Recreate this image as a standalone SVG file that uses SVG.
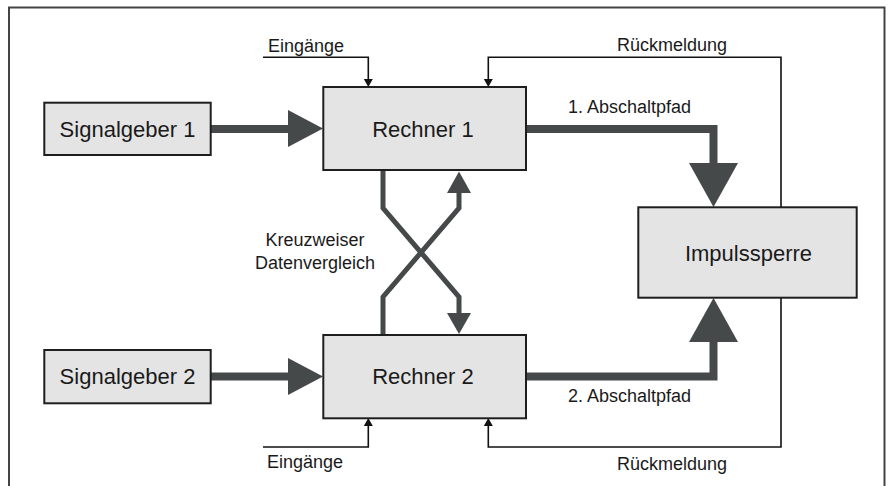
<svg xmlns="http://www.w3.org/2000/svg" width="888" height="486" viewBox="0 0 888 486">
<style>
.box{fill:#e4e4e4;stroke:#1e1e1e;stroke-width:2}
.big{font-family:"Liberation Sans",Arial,sans-serif;font-size:22px;fill:#1a1a1a}
.lbl{font-family:"Liberation Sans",Arial,sans-serif;font-size:18px;fill:#1a1a1a}
.thick{fill:none;stroke:#464949;stroke-width:8;stroke-linejoin:miter}
.cross{fill:none;stroke:#464949;stroke-width:5;stroke-linejoin:miter}
.head{fill:#464949}
.thin{fill:none;stroke:#111;stroke-width:1.6}
.sh{fill:#111}
</style>
<rect width="888" height="486" fill="#fff"/>
<path d="M9,490 V7.5 H884.5 V490" fill="none" stroke="#444" stroke-width="2"/>
<g id="connectors">
<path class="thick" d="M211,129 H290"/>
<polygon class="head" points="288,110 323,128.5 288,147"/>
<path class="thick" d="M211,376.5 H290"/>
<polygon class="head" points="288,358 323,376.5 288,395"/>
<path class="thick" d="M526,129 H713.5 V166"/>
<polygon class="head" points="689,163 738,163 713.5,207"/>
<path class="thick" d="M526,376.5 H713.5 V339"/>
<polygon class="head" points="689,342 738,342 713.5,298"/>
<path class="cross" d="M383,170 V208 L459,297 V315"/>
<polygon class="head" points="447,313 471,313 459,334"/>
<path class="cross" d="M383,335 V297 L459,208 V190"/>
<polygon class="head" points="447,193 471,193 459,171.5"/>
<path class="thin" d="M263,57.3 H368.3 V80"/>
<polygon class="sh" points="363.8,79 372.8,79 368.3,87"/>
<path class="thin" d="M781,207 V57.3 H488.3 V80"/>
<polygon class="sh" points="483.8,79 492.8,79 488.3,87"/>
<path class="thin" d="M263,447 H368.3 V425"/>
<polygon class="sh" points="363.8,426 372.8,426 368.3,418"/>
<path class="thin" d="M781,298 V447 H488.3 V425"/>
<polygon class="sh" points="483.8,426 492.8,426 488.3,418"/>
<text class="lbl" x="268" y="52">Eingänge</text>
<text class="lbl" x="617" y="51">Rückmeldung</text>
<text class="lbl" x="568" y="113">1. Abschaltpfad</text>
<text class="lbl" x="568" y="402">2. Abschaltpfad</text>
<text class="lbl" x="267" y="468">Eingänge</text>
<text class="lbl" x="617" y="470">Rückmeldung</text>
<text class="lbl" x="315" y="246" text-anchor="middle">Kreuzweiser</text>
<text class="lbl" x="315" y="269" text-anchor="middle">Datenvergleich</text>
</g>
<g id="signalgeber1">
<rect class="box" x="44.3" y="102.7" width="166.4" height="52.3"/>
<text class="big" x="127.5" y="136.5" text-anchor="middle">Signalgeber 1</text>
</g>
<g id="signalgeber2">
<rect class="box" x="44.3" y="350" width="166.4" height="53.3"/>
<text class="big" x="127.5" y="384" text-anchor="middle">Signalgeber 2</text>
</g>
<g id="rechner1">
<rect class="box" x="323.3" y="87" width="202.7" height="83"/>
<text class="big" x="423" y="136.5" text-anchor="middle">Rechner 1</text>
</g>
<g id="rechner2">
<rect class="box" x="323.3" y="335" width="202.7" height="83.3"/>
<text class="big" x="423" y="384" text-anchor="middle">Rechner 2</text>
</g>
<g id="impulssperre">
<rect class="box" x="638.3" y="207.3" width="218.4" height="90.4"/>
<text class="big" x="748.5" y="261" text-anchor="middle">Impulssperre</text>
</g>
</svg>
